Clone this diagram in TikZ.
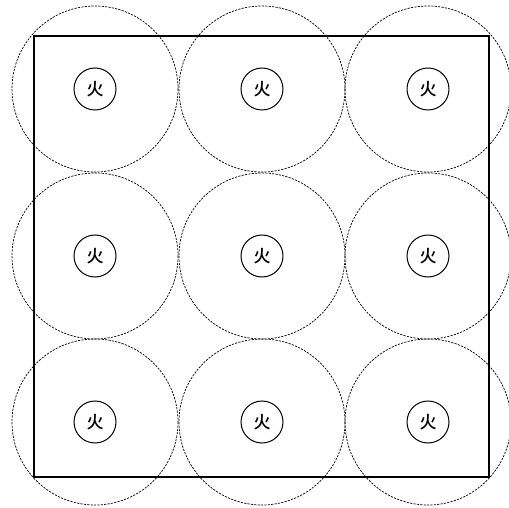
\documentclass[tikz,border=0pt]{standalone}
\usepackage{fontspec}
\newfontfamily\cjk{Noto Sans CJK SC Medium}
\begin{document}
\begin{tikzpicture}[x=1pt,y=-1pt,
  reachring/.style={draw=black,line width=0.7pt,dash pattern=on 2.2pt off 1.2pt},
  firebox/.style={draw,circle,line width=1pt,minimum size=42pt,inner sep=0pt,font=\cjk\fontsize{17}{17}\selectfont},
  roombox/.style={draw,line width=2.2pt}]
\useasboundingbox (0,0) rectangle (509,508);
\draw[roombox] (34,36) rectangle (489,477);
\foreach \r/\y in {1/89,2/256,3/422}{
  \foreach \c/\x in {1/95,2/262,3/428}{
    \draw[reachring] (\x,\y) circle (83);
    \node[firebox] (f\r\c) at (\x,\y) {火};
  }
}
\end{tikzpicture}
\end{document}
